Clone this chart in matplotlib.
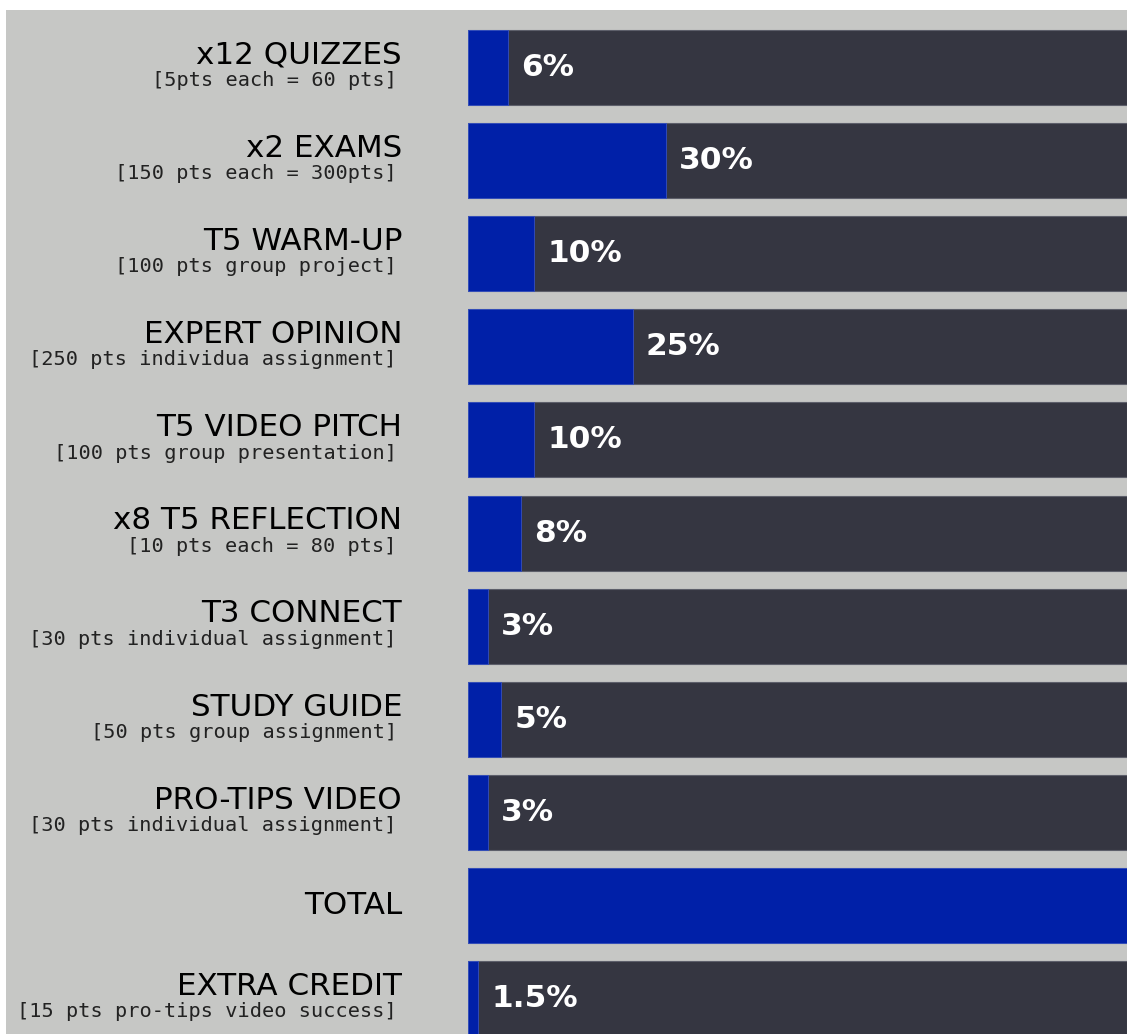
import matplotlib.pyplot as plt
from matplotlib.patches import Rectangle

# Grading breakdown
titles = ["x12 QUIZZES", "x2 EXAMS", "T5 WARM-UP", "EXPERT OPINION",
          "T5 VIDEO PITCH", "x8 T5 REFLECTION", "T3 CONNECT", "STUDY GUIDE",
          "PRO-TIPS VIDEO", "TOTAL", "EXTRA CREDIT"]
subtitles = ["[5pts each = 60 pts]", "[150 pts each = 300pts]",
             "[100 pts group project]", "[250 pts individua assignment]",
             "[100 pts group presentation]", "[10 pts each = 80 pts]",
             "[30 pts individual assignment]", "[50 pts group assignment]",
             "[30 pts individual assignment]", "",
             "[15 pts pro-tips video success]"]
percents = [6, 30, 10, 25, 10, 8, 3, 5, 3, 100, 1.5]
value_labels = ["6%", "30%", "10%", "25%", "10%", "8%", "3%", "5%", "3%", "", "1.5%"]

BG = "#c6c7c5"
BLUE = "#0020a8"
DARK = "#353641"

W, H = 1127, 1034
fig = plt.figure(figsize=(W / 100, H / 100), dpi=100, facecolor="white")
fig.patches.append(Rectangle((6 / W, 0), 1 - 6 / W, 1 - 10 / H,
                             transform=fig.transFigure, facecolor=BG,
                             edgecolor="none", zorder=-10))

ax = fig.add_axes([468 / W, 0, 659 / W, 1024 / H])
ax.set_facecolor("none")
ax.set_xlim(0, 100)
ax.set_ylim(10.381, -0.618)
ax.axis("off")

ypos = list(range(len(titles)))
bh = 0.806
ax.barh(ypos, [100] * len(ypos), height=bh, color=DARK,
        edgecolor="#5d5f6a", linewidth=0.8, zorder=1)
ax.barh(ypos, percents, height=bh, color=BLUE,
        edgecolor="#3550c0", linewidth=0.6, zorder=2)

for y, t, s, v in zip(ypos, titles, subtitles, value_labels):
    if s:
        ax.text(-10, y - 0.04, t, ha="right", va="baseline", fontsize=22.3,
                family="DejaVu Sans", color="black", clip_on=False)
        ax.text(-10.8, y + 0.2, s, ha="right", va="baseline", fontsize=14.6,
                family="DejaVu Sans Mono", color="#222222", clip_on=False)
    else:
        ax.text(-10, y, t, ha="right", va="center", fontsize=22.3,
                family="DejaVu Sans", color="black", clip_on=False)
    if v:
        ax.text(percents[y] + 2, y, v, ha="left", va="center", fontsize=22.5,
                fontweight="bold", color="white", zorder=3)

fig.savefig("out.png", dpi=100, facecolor="white")
